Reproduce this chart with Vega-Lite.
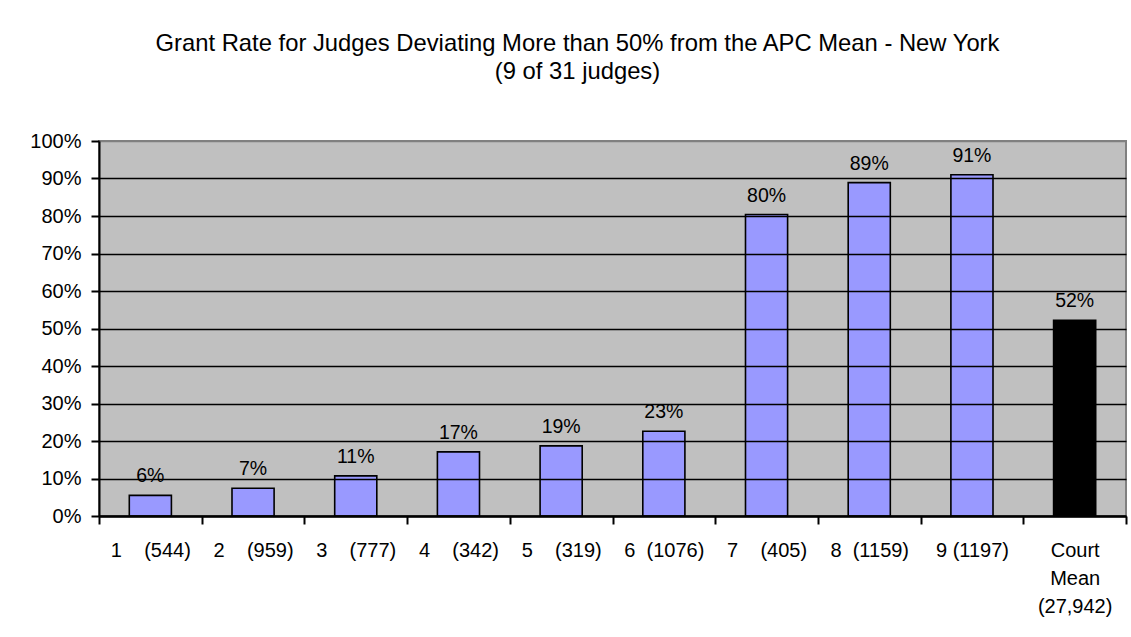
{
  "$schema": "https://vega.github.io/schema/vega-lite/v6.json",
  "width": 1027,
  "height": 375,
  "autosize": {"type": "none"},
  "padding": {"left": 99, "top": 141, "right": 5, "bottom": 121},
  "background": "white",
  "title": {
    "text": ["Grant Rate for Judges Deviating More than 50% from the APC Mean - New York", "(9 of 31 judges)"],
    "fontSize": 23.8,
    "fontWeight": "normal",
    "font": "Liberation Sans",
    "color": "black",
    "anchor": "middle",
    "frame": "group",
    "dx": -35,
    "offset": 47,
    "lineHeight": 28
  },
  "data": {
    "values": [
      {"judge": "1\u00a0\u00a0\u00a0\u00a0(544)", "rate": 0.055, "label": "6%", "kind": "judge"},
      {"judge": "2\u00a0\u00a0\u00a0\u00a0(959)", "rate": 0.074, "label": "7%", "kind": "judge"},
      {"judge": "3\u00a0\u00a0\u00a0\u00a0(777)", "rate": 0.107, "label": "11%", "kind": "judge"},
      {"judge": "4\u00a0\u00a0\u00a0\u00a0(342)", "rate": 0.171, "label": "17%", "kind": "judge"},
      {"judge": "5\u00a0\u00a0\u00a0\u00a0(319)", "rate": 0.187, "label": "19%", "kind": "judge"},
      {"judge": "6\u00a0\u00a0(1076)", "rate": 0.226, "label": "23%", "kind": "judge"},
      {"judge": "7\u00a0\u00a0\u00a0\u00a0(405)", "rate": 0.804, "label": "80%", "kind": "judge"},
      {"judge": "8\u00a0\u00a0(1159)", "rate": 0.889, "label": "89%", "kind": "judge"},
      {"judge": "9\u00a0(1197)", "rate": 0.910, "label": "91%", "kind": "judge"},
      {"judge": "Court|Mean|(27,942)", "rate": 0.522, "label": "52%", "kind": "mean"}
    ]
  },
  "encoding": {
    "x": {
      "field": "judge",
      "type": "nominal",
      "sort": null,
      "scale": {"paddingInner": 0, "paddingOuter": 0},
      "axis": {
        "title": null,
        "labelAngle": 0,
        "tickBand": "extent",
        "labelExpr": "split(datum.label, '|')",
        "labelLineHeight": 28,
        "labelFontSize": 20,
        "labelFont": "Liberation Sans",
        "labelColor": "black",
        "labelPadding": 16,
        "labelOverlap": false,
        "labelLimit": 300,
        "domainColor": "black",
        "domainWidth": 2.5,
        "tickColor": "black",
        "tickWidth": 2,
        "tickSize": 8,
        "zindex": 1
      }
    },
    "y": {
      "field": "rate",
      "type": "quantitative",
      "scale": {"domain": [0, 1], "nice": false},
      "axis": {
        "title": null,
        "values": [0, 0.1, 0.2, 0.3, 0.4, 0.5, 0.6, 0.7, 0.8, 0.9, 1],
        "format": ".0%",
        "grid": true,
        "gridColor": {"condition": {"test": "datum.value >= 1", "value": "#808080"}, "value": "black"},
        "gridWidth": 1.4,
        "labelFontSize": 20,
        "labelFont": "Liberation Sans",
        "labelColor": "black",
        "labelPadding": 10,
        "domainColor": "black",
        "domainWidth": 2,
        "tickColor": "black",
        "tickWidth": 2,
        "tickSize": 8,
        "zindex": 1
      }
    }
  },
  "layer": [
    {
      "mark": {"type": "bar", "width": {"band": 0.41}, "stroke": "black", "strokeWidth": 1.6},
      "encoding": {
        "color": {
          "field": "kind",
          "type": "nominal",
          "scale": {"domain": ["judge", "mean"], "range": ["#9999FF", "#000000"]},
          "legend": null
        }
      }
    },
    {
      "mark": {"type": "text", "dy": -13, "baseline": "alphabetic", "fontSize": 19.5, "font": "Liberation Sans", "color": "black"},
      "encoding": {
        "text": {"field": "label"}
      }
    }
  ],
  "config": {
    "font": "Liberation Sans",
    "view": {"fill": "#C0C0C0", "stroke": "#808080", "strokeWidth": 2}
  }
}
